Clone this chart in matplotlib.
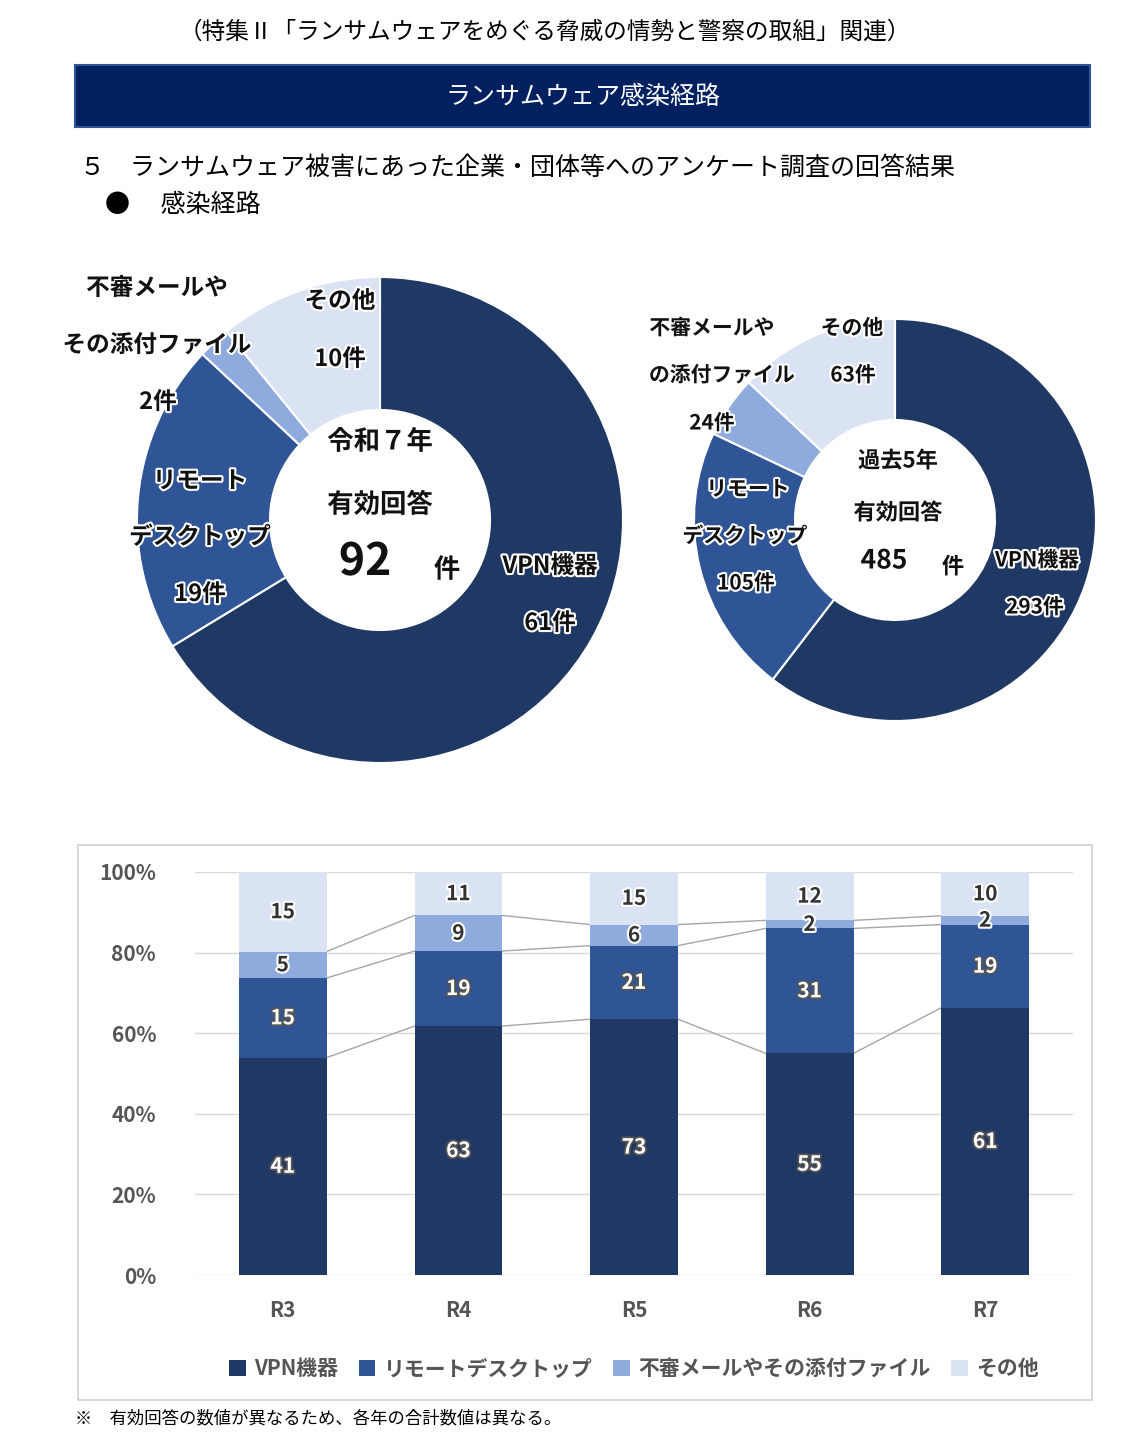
import matplotlib
matplotlib.use("Agg")
import matplotlib.pyplot as plt
import matplotlib.patheffects as pe
from matplotlib.patches import Rectangle
import numpy as np

plt.rcParams['font.family'] = ['Noto Sans CJK JP', 'DejaVu Sans']

W, H = 1132, 1438
colors = ['#203864', '#2F5597', '#8FAADC', '#DAE3F3']
cats = ['VPN機器', 'リモートデスクトップ', '不審メールやその添付ファイル', 'その他']

pie1_vals = [61, 19, 2, 10]
pie2_vals = [293, 105, 24, 63]

years = ['R3', 'R4', 'R5', 'R6', 'R7']
vpn = [41, 63, 73, 55, 61]
rdp = [15, 19, 21, 31, 19]
mail = [5, 9, 6, 2, 2]
other = [15, 11, 15, 12, 10]

fig = plt.figure(figsize=(W/100, H/100), dpi=100)

def rect(l, t, w, h):
    return [l/W, 1-(t+h)/H, w/W, h/H]

def ftext(x, y, s, **kw):
    fig.text(x/W, 1-y/H, s, **kw)

# header
ftext(545, 32, '（特集Ⅱ「ランサムウェアをめぐる脅威の情勢と警察の取組」関連）', fontsize=17, ha='center', va='center')
fig.patches.append(Rectangle((75/W, 1-127/H), 1015/W, 62/H, transform=fig.transFigure,
                             facecolor='#002060', edgecolor='#2F5597', lw=1.5))
ftext(583, 97, 'ランサムウェア感染経路', fontsize=18, ha='center', va='center', color='white')
ftext(80, 168, '５　ランサムウェア被害にあった企業・団体等へのアンケート調査の回答結果', fontsize=18, va='center')
ftext(105, 205, '●　 感染経路', fontsize=18, va='center')

def donut(cx, cy, r, inner, vals):
    ax = fig.add_axes(rect(cx-r, cy-r, 2*r, 2*r))
    ax.pie(vals, colors=colors, startangle=90, counterclock=False,
           wedgeprops=dict(width=(r-inner)/r, edgecolor='white', linewidth=1.5))
    ax.set_aspect('equal')
    ax.set_xlim(-1, 1); ax.set_ylim(-1, 1)
    ax.axis('off')

donut(380, 520, 243, 110, pie1_vals)
donut(895, 520, 201, 100, pie2_vals)

st = [pe.withStroke(linewidth=3, foreground='white')]
def lab(x, y, s, size=17, **kw):
    ftext(x, y, s, fontsize=size, fontweight='bold', ha='center', va='center',
          color='#111111', path_effects=st, **kw)

# pie1 labels
lab(157, 288, '不審メールや')
lab(157, 345, 'その添付ファイル')
lab(158, 402, '2件')
lab(340, 301, 'その他')
lab(340, 359, '10件')
lab(200, 481, 'リモート')
lab(200, 537, 'デスクトップ')
lab(200, 594, '19件')
lab(380, 442, '令和７年', size=19)
lab(380, 505, '有効回答', size=19)
lab(365, 562, '92', size=32)
lab(447, 570, '件', size=19)
lab(550, 566, 'VPN機器')
lab(550, 623, '61件')
# pie2 labels
lab(712, 328, '不審メールや', size=15)
lab(722, 375, 'の添付ファイル', size=15)
lab(712, 423, '24件', size=15)
lab(852, 328, 'その他', size=15)
lab(853, 375, '63件', size=15)
lab(748, 489, 'リモート', size=15)
lab(745, 536, 'デスクトップ', size=15)
lab(746, 583, '105件', size=15)
lab(898, 461, '過去5年', size=16)
lab(898, 513, '有効回答', size=16)
lab(884, 561, '485', size=19)
lab(953, 567, '件', size=16)
lab(1037, 560, 'VPN機器', size=15)
lab(1035, 607, '293件', size=15)

# bar chart frame
fig.patches.append(Rectangle((78/W, 1-1400/H), 1014/W, 555/H, transform=fig.transFigure,
                             facecolor='none', edgecolor='#D0D0D0', lw=1.2))
ax = fig.add_axes(rect(195, 872, 878, 403))
data = np.array([vpn, rdp, mail, other], dtype=float)
tot = data.sum(axis=0)
pct = data / tot * 100
x = np.arange(len(years))
bw = 0.5
bottom = np.zeros(len(years))
for i in range(4):
    ax.bar(x, pct[i], bw, bottom=bottom, color=colors[i], label=cats[i], zorder=3)
    for j in range(len(years)):
        yc = bottom[j] + pct[i][j]/2
        if i < 2:
            ax.text(x[j], yc, str(int(data[i][j])), ha='center', va='center', fontsize=15,
                    fontweight='bold', color='white',
                    path_effects=[pe.withStroke(linewidth=2.5, foreground='#555555')], zorder=5)
        else:
            ax.text(x[j], yc, str(int(data[i][j])), ha='center', va='center', fontsize=15,
                    fontweight='bold', color='#333333',
                    path_effects=[pe.withStroke(linewidth=3, foreground='white')], zorder=5)
    bottom = bottom + pct[i]
    if i < 3:
        for j in range(len(years)-1):
            ax.plot([x[j]+bw/2, x[j+1]-bw/2], [bottom[j], bottom[j+1]], color='#A6A6A6', lw=1, zorder=2)
ax.set_xlim(-0.5, 4.5)
ax.set_ylim(0, 100)
ax.set_yticks(range(0, 101, 20))
ax.set_yticklabels([f'{v}%' for v in range(0, 101, 20)], fontsize=15, fontweight='bold', color='#555555')
ax.set_xticks(x)
ax.set_xticklabels(years, fontsize=15, fontweight='bold', color='#555555')
ax.tick_params(length=0, pad=18)
ax.tick_params(axis='y', pad=28)
ax.grid(axis='y', color='#D9D9D9', lw=1, zorder=0)
for s in ax.spines.values():
    s.set_visible(False)
leg = ax.legend(loc='upper center', bbox_to_anchor=(0.5, -0.16), ncol=4, frameon=False,
                handlelength=0.8, handleheight=0.8, handletextpad=0.4, columnspacing=1.0,
                prop={'size': 15, 'weight': 'bold'})
for t in leg.get_texts():
    t.set_color('#555555')

ftext(75, 1418, '※　有効回答の数値が異なるため、各年の合計数値は異なる。', fontsize=12.5, va='center')

fig.savefig('out.png', dpi=100)
